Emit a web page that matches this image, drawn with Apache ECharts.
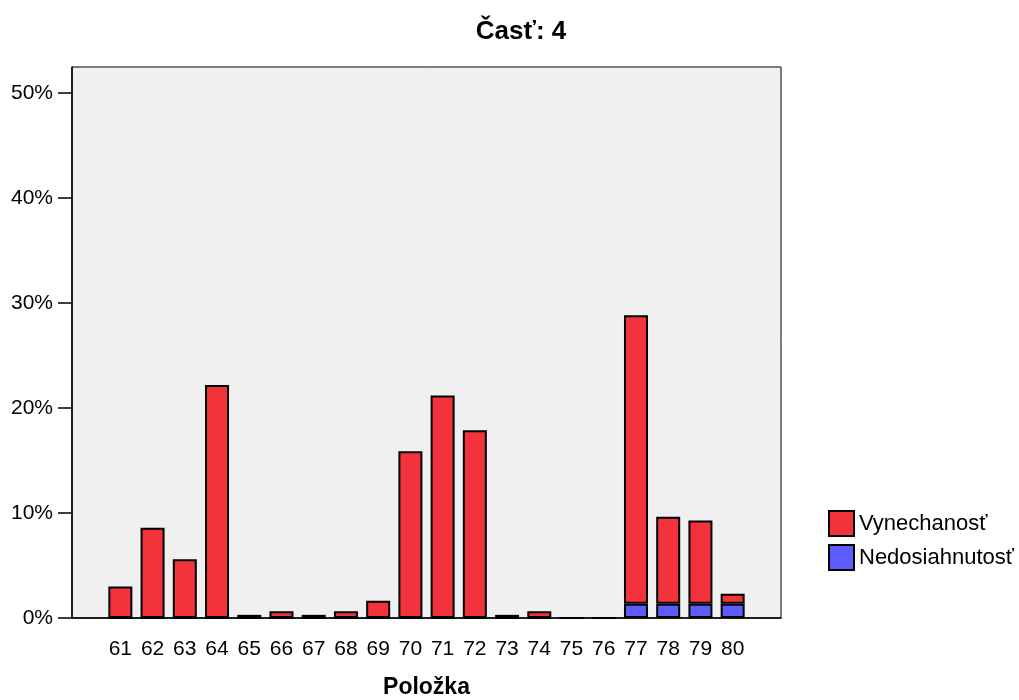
<!DOCTYPE html>
<html>
<head>
<meta charset="utf-8">
<script src="https://cdn.jsdelivr.net/npm/echarts@6/dist/echarts.min.js"></script>
<style>
  html, body { margin: 0; padding: 0; background: #fff; }
  #chart { width: 1019px; height: 700px; }
</style>
</head>
<body>
<div id="chart"></div>
<script>
// data (percent)
var items = ['61', '62', '63', '64', '65', '66', '67', '68', '69', '70',
             '71', '72', '73', '74', '75', '76', '77', '78', '79', '80'];
var vynechanost = [3.0, 8.6, 5.6, 22.2, 0.3, 0.65, 0.3, 0.65, 1.65, 15.9,
                   21.2, 17.9, 0.3, 0.65, 0, 0, 27.5, 8.3, 7.95, 0.95];
var nedosiahnutost = [0, 0, 0, 0, 0, 0, 0, 0, 0, 0,
                      0, 0, 0, 0, 0, 0, 1.35, 1.35, 1.35, 1.35];
var yTicks = [0, 10, 20, 30, 40, 50];

// one empty slot on each side of the axis, like the original
var axisData = [''].concat(items, ['']);
function pad(arr) { return [null].concat(arr, [null]); }

var chart = echarts.init(document.getElementById('chart'));
var font = 'Liberation Sans, Arial, sans-serif';

chart.setOption({
  animation: false,
  textStyle: { fontFamily: font },
  title: {
    text: 'Časť: 4',
    left: 516,
    top: 14,
    textAlign: 'center',
    textStyle: { fontSize: 26, fontWeight: 'bold', color: '#000', fontFamily: font }
  },
  legend: {
    orient: 'vertical',
    left: 823,
    top: 505,
    itemWidth: 25,
    itemHeight: 25,
    itemGap: 7,
    icon: 'rect',
    data: ['Vynechanosť', 'Nedosiahnutosť'],
    textStyle: { fontSize: 22, color: '#000', fontFamily: font }
  },
  grid: {
    left: 72, right: 238, top: 67, bottom: 82,
    containLabel: false,
    outerBoundsMode: 'none',
    show: true,
    backgroundColor: '#f0f0f0',
    borderColor: '#000',
    borderWidth: 1
  },
  xAxis: {
    type: 'category',
    data: axisData,
    name: 'Položka',
    nameLocation: 'middle',
    nameGap: 58,
    nameTextStyle: { fontSize: 23, fontWeight: 'bold', color: '#000', fontFamily: font },
    axisLine: { lineStyle: { color: '#000', width: 1.5 } },
    axisTick: {
      alignWithLabel: true,
      length: 12,
      lineStyle: { color: '#000', width: 2 },
      interval: function (i, v) { return v !== ''; }
    },
    axisLabel: { fontSize: 21, color: '#000', margin: 21, interval: 0 }
  },
  yAxis: {
    type: 'value',
    min: 0,
    max: 52.5,
    interval: 10,
    axisLine: { show: true, lineStyle: { color: '#000', width: 1.5 } },
    axisTick: { show: true, length: 14, customValues: yTicks, lineStyle: { color: '#000', width: 1.5 } },
    splitLine: { show: false },
    axisLabel: {
      fontSize: 21, color: '#000', margin: 19,
      customValues: yTicks,
      formatter: '{value}%'
    }
  },
  series: [
    {
      name: 'Nedosiahnutosť',
      type: 'bar',
      stack: 'total',
      barWidth: 24,
      data: pad(nedosiahnutost),
      itemStyle: { color: '#5c5cff', borderColor: '#000', borderWidth: 2 }
    },
    {
      name: 'Vynechanosť',
      type: 'bar',
      stack: 'total',
      barWidth: 24,
      data: pad(vynechanost),
      itemStyle: { color: '#f2333b', borderColor: '#000', borderWidth: 2 }
    }
  ]
});
</script>
</body>
</html>
